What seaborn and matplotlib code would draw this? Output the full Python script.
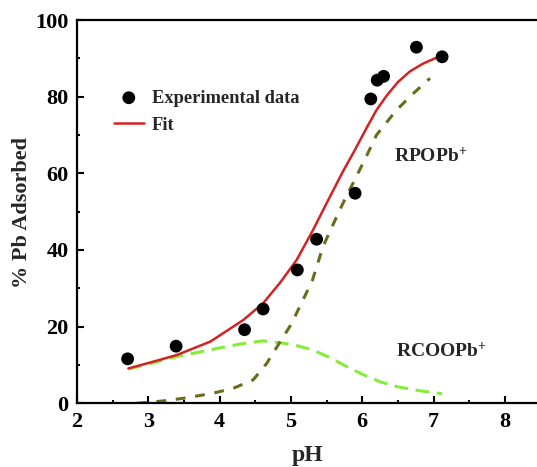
import matplotlib
matplotlib.use("Agg")
import matplotlib.pyplot as plt
import seaborn as sns
import pandas as pd

# Experimental data
exp_ph = [2.71, 3.39, 4.35, 4.61, 5.09, 5.36, 5.90, 6.12, 6.21, 6.30, 6.76, 7.12]
exp_ads = [11.6, 14.9, 19.2, 24.6, 34.8, 42.8, 54.8, 79.4, 84.3, 85.3, 92.9, 90.4]

# Fit curve
fit_ph = [2.72, 3.0, 3.4, 3.87, 4.33, 4.61, 4.85, 5.08, 5.31, 5.55, 5.73, 5.88, 6.06, 6.2, 6.34, 6.5, 6.67, 6.85, 7.07]
fit_ads = [9.1, 10.5, 12.6, 16.1, 21.7, 26.1, 31.5, 37.4, 45.2, 54.0, 60.5, 65.5, 71.8, 76.5, 80.2, 83.8, 86.6, 88.6, 90.4]

# RPOPb+ species
rpop_ph = [2.84, 3.2, 3.49, 3.9, 4.19, 4.47, 4.66, 4.85, 5.0, 5.17, 5.3, 5.45, 5.6, 5.73, 5.9, 6.06, 6.2, 6.48, 6.72, 6.95]
rpop_ads = [0.0, 0.6, 1.3, 2.6, 3.9, 6.1, 10.4, 16.1, 20.5, 27.0, 32.0, 40.9, 47.0, 52.2, 58.5, 64.5, 70.0, 76.5, 80.9, 84.8]

# RCOOPb+ species
rcoo_ph = [2.72, 3.1, 3.4, 3.7, 4.01, 4.3, 4.61, 4.85, 5.05, 5.31, 5.55, 5.78, 6.0, 6.25, 6.5, 6.8, 7.12]
rcoo_ads = [8.9, 10.7, 12.2, 13.3, 14.5, 15.5, 16.3, 15.8, 15.2, 13.9, 11.9, 9.6, 7.6, 5.6, 4.3, 3.3, 2.5]

sns.set_style("white")
plt.rcParams["font.family"] = ["Liberation Serif", "DejaVu Serif"]
plt.rcParams["font.weight"] = "bold"
plt.rcParams["mathtext.fontset"] = "custom"
plt.rcParams["mathtext.rm"] = "Liberation Serif:bold"
plt.rcParams["mathtext.it"] = "Liberation Serif:bold"
plt.rcParams["mathtext.bf"] = "Liberation Serif:bold"

fig = plt.figure(figsize=(5.37, 4.67), dpi=100)
ax = fig.add_axes([77 / 537, 1 - 403.3 / 467, 463.5 / 537, (403.3 - 20) / 467])

df_exp = pd.DataFrame({"pH": exp_ph, "ads": exp_ads})
df_fit = pd.DataFrame({"pH": fit_ph, "ads": fit_ads})
df_rpop = pd.DataFrame({"pH": rpop_ph, "ads": rpop_ads})
df_rcoo = pd.DataFrame({"pH": rcoo_ph, "ads": rcoo_ads})

sns.lineplot(data=df_rcoo, x="pH", y="ads", ax=ax, sort=False, estimator=None,
             color="#86ec3a", lw=2.2, linestyle=(0, (4.5, 2.5)), zorder=2)
sns.lineplot(data=df_rpop, x="pH", y="ads", ax=ax, sort=False, estimator=None,
             color="#6b6b1c", lw=2.2, linestyle=(0, (3.2, 3.2)), zorder=2)
sns.lineplot(data=df_fit, x="pH", y="ads", ax=ax, sort=False, estimator=None,
             color="#d42222", lw=1.8, label="Fit", zorder=3)
sns.scatterplot(data=df_exp, x="pH", y="ads", ax=ax, color="black", s=85,
                edgecolor="none", label="Experimental data", zorder=4)

ax.set_xlim(2, 8.5)
ax.set_ylim(0, 100)
ax.set_xticks([2, 3, 4, 5, 6, 7, 8])
ax.set_xticks([2.5, 3.5, 4.5, 5.5, 6.5, 7.5], minor=True)
ax.set_yticks([0, 20, 40, 60, 80, 100])
ax.set_yticks([10, 30, 50, 70, 90], minor=True)
ax.tick_params(which="major", direction="in", length=5, width=1.5, labelsize=16,
               top=False, right=False, bottom=True, left=True, pad=6, colors="black")
ax.tick_params(which="minor", direction="in", length=2.5, width=1.5,
               top=False, right=False, bottom=True, left=True, colors="black")
for lbl in ax.get_xticklabels() + ax.get_yticklabels():
    lbl.set_fontweight("bold")
for s in ax.spines.values():
    s.set_linewidth(1.6)
    s.set_color("black")

ax.set_xlabel("pH", fontsize=17, fontweight="bold")
ax.set_ylabel("% Pb Adsorbed", fontsize=16, fontweight="bold")
ax.xaxis.set_label_coords(0.5 * (300 - 77) / 231.75 * 0 + (308 - 77) / 463.5, -0.108)
ax.yaxis.set_label_coords(-0.098, 0.5 * 0 + (403.3 - 212) / 383.3)

handles, labels = ax.get_legend_handles_labels()
order = [labels.index("Experimental data"), labels.index("Fit")]
leg = ax.legend([handles[i] for i in order], [labels[i] for i in order],
                loc="upper left", bbox_to_anchor=(0.048, 0.857), frameon=False,
                prop={"family": "Liberation Serif", "weight": "bold", "size": 13.3},
                handlelength=1.6, handletextpad=0.45, labelspacing=0.55, borderpad=0.3)

ax.text(6.44, 64.3, r"RPOPb$^{+}$", fontsize=14, fontweight="bold", ha="left", va="center")
ax.text(6.47, 13.5, r"RCOOPb$^{+}$", fontsize=14, fontweight="bold", ha="left", va="center")

fig.savefig("out.png", dpi=100)
